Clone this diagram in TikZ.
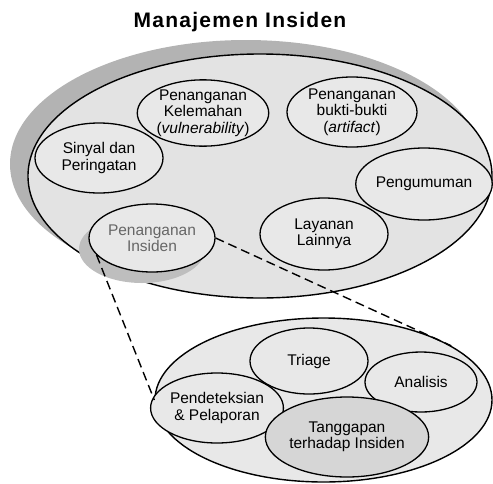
\documentclass[tikz,border=0pt]{standalone}
\usepackage{fontspec}
\setmainfont{Liberation Sans}
\usetikzlibrary{shapes.geometric,positioning}
\definecolor{areafill}{HTML}{E3E3E3}
\definecolor{bubblefill}{HTML}{E8E8E8}
\definecolor{shadefill}{HTML}{B3B3B3}
\definecolor{pishade}{HTML}{BEBEBE}
\definecolor{respfill}{HTML}{D6D6D6}
\tikzset{
  area/.style={draw, ellipse, line width=1.4pt, fill=areafill, inner sep=0pt},
  shade/.style={ellipse, fill=shadefill, inner sep=0pt},
  bubble/.style={draw, ellipse, line width=1.3pt, fill=bubblefill, inner sep=0pt, align=center,
    font=\fontsize{15.5}{16.5}\selectfont},
  zoomline/.style={dashed, dash pattern=on 9pt off 5pt, line width=1.4pt}
}

\begin{document}
\begin{tikzpicture}[x=1pt,y=-1pt]
\useasboundingbox (0,0) rectangle (493,483);

\node[font=\fontsize{21}{24}\selectfont\bfseries\addfontfeature{LetterSpace=6}] (title) at (240,22) {Manajemen Insiden};

% upper area with its shadow
\node[shade, minimum width=472pt, minimum height=248pt] (mainshadow) at (246,164) {};
\node[area, minimum width=464pt, minimum height=244pt] (main) at (260,176) {};
\node[shade, fill=pishade, minimum width=126pt, minimum height=68pt] (pishadow) at (142,249) {};

\node[bubble, minimum width=128pt, minimum height=70pt] (sinyal) at (99,158) {Sinyal dan\\Peringatan};
\node[bubble, minimum width=120pt, minimum height=66pt] (kelemahan) at (203,113) {Penanganan\\Kelemahan\\(\textit{vulnerability})};
\node[bubble, minimum width=130pt, minimum height=70pt] (bukti) at (352,112) {Penanganan\\bukti-bukti\\(\textit{artifact})};
\node[bubble, minimum width=122pt, minimum height=72pt] (umum) at (424,184) {Pengumuman};
\node[bubble, minimum width=128pt, minimum height=72pt] (layanan) at (324,234) {Layanan\\Lainnya};
\node[bubble, text=black!60, minimum width=126pt, minimum height=68pt] (insiden) at (152,238) {Penanganan\\Insiden};

% detail of incident handling
\node[area, fill=bubblefill, minimum width=337pt, minimum height=164pt] (detail) at (323.5,400) {};
\node[bubble, minimum width=118pt, minimum height=66pt] (triage) at (309,361) {Triage};
\node[bubble, minimum width=112pt, minimum height=60pt] (analisis) at (421,382) {Analisis};
\node[bubble, minimum width=122pt, minimum height=70pt] (deteksi) at (217,408) {Pendeteksian\\\& Pelaporan};
\node[bubble, fill=respfill, minimum width=138pt, minimum height=80pt] (tanggap) at (347,437) {Tanggapan\\terhadap Insiden};

\draw[zoomline] (insiden.east) -- (detail.23);
\draw[zoomline] (insiden.197) -- (detail.west);

\end{tikzpicture}
\end{document}
